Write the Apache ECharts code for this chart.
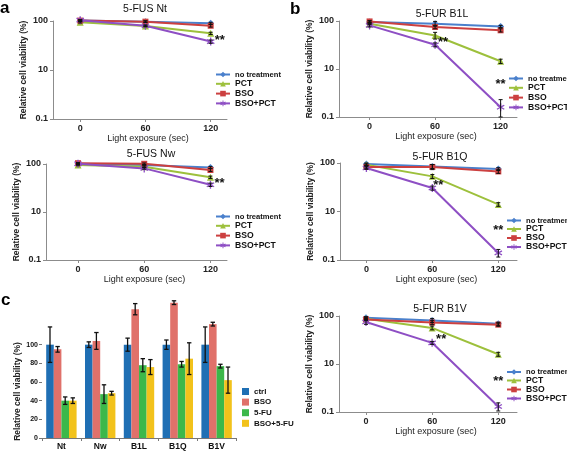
<!DOCTYPE html>
<html><head><meta charset="utf-8">
<script src="https://cdn.jsdelivr.net/npm/echarts@6/dist/echarts.min.js"></script>
<style>html,body{margin:0;padding:0;background:#fff}#c{width:567px;height:451px}</style>
</head><body><div id="c"></div>
<script>
// ---------- DATA ----------
const exposure = [0, 60, 120];
const lineNames = ['no treatment', 'PCT', 'BSO', 'BSO+PCT'];
// values as placed on the printed log axis (bottom gridline is labelled "0.1")
const ntNoTreat = [102, 97, 90];
const ntPct = [94, 79, 56];
const ntBso = [102, 97, 80];
const ntBsoPct = [104, 80, 38];
const ntErr = [[3, 3, 4], [3, 3, 3], [3, 4, 5], [3, 3, 3]];

const nwNoTreat = [101, 95, 85];
const nwPct = [95, 88, 53];
const nwBso = [104, 101, 75];
const nwBsoPct = [101, 81, 37];
const nwErr = [[3, 3, 4], [3, 3, 3], [3, 4, 5], [3, 3, 3]];

const b1lNoTreat = [95, 88, 77];
const b1lPct = [88, 50, 14.5];
const b1lBso = [98, 75, 64];
const b1lBsoPct = [81, 32, 1.6];
const b1lErr = [[5, 10, 4], [4, 8, 1.5], [4, 6, 5], [6, 3, 0.7]];

const b1qNoTreat = [95, 85, 75];
const b1qPct = [92, 53, 14];
const b1qBso = [83, 83, 67];
const b1qBsoPct = [79, 30.5, 1.4];
const b1qErr = [[5, 8, 5], [4, 5, 1.2], [5, 10, 6], [5, 3, 0.25]];

const b1vNoTreat = [92, 81, 69];
const b1vPct = [88, 56.5, 16];
const b1vBso = [85, 73, 66];
const b1vBsoPct = [75, 27.6, 1.3];
const b1vErr = [[5, 8, 5], [4, 5, 1.5], [5, 7, 5], [8, 2, 0.25]];

const barCats = ['Nt', 'Nw', 'B1L', 'B1Q', 'B1V'];
const barNames = ['ctrl', 'BSO', '5-FU', 'BSO+5-FU'];
const ctrlVals = [100, 100, 100, 100, 100];
const ctrlErr = [19, 3, 7, 5, 19];
const bsoVals = [95, 104, 138, 145, 122];
const bsoErr = [3, 9, 6, 2, 2];
const fuVals = [40, 47, 78, 79, 77];
const fuErr = [4, 10, 7, 3, 2];
const bsoFuVals = [40, 48, 76, 85, 62];
const bsoFuErr = [3, 2, 8, 17, 14];
const barTicks = [0, 20, 40, 60, 80, 100];

// ---------- STYLE / LAYOUT ----------
const FONT = '"Liberation Sans", Arial, Helvetica, sans-serif';
const lineColors = ['#4a80cc', '#9dc03c', '#cc4040', '#8e4fc4'];
const barColors = ['#1f6fb4', '#e0716a', '#3cb84a', '#f2c21b'];
const asterisk = 'path://M4.2,0 L5.8,0 L5.8,3.6 L9,1.8 L9.8,3.2 L6.6,5 L9.8,6.8 L9,8.2 L5.8,6.4 L5.8,10 L4.2,10 L4.2,6.4 L1,8.2 L0.2,6.8 L3.4,5 L0.2,3.2 L1,1.8 L4.2,3.6 Z';
const symbols = ['diamond', 'triangle', 'rect', asterisk];
const symSizes = [7, 7, 6, 8];
const AX = '#8c8c8c';

const panels = [
  {title: '5-FUS Nt', tx: 145, ty: 4, grid: {left: 53, top: 21, width: 174, height: 98}, xMin: -25, xMax: 135,
   vals: [ntNoTreat, ntPct, ntBso, ntBsoPct], err: ntErr, lg: [215, 70.5, 0.8],
   stars: [[120, 2, [9, -1]]]},
  {title: '5-FUS Nw', tx: 151, ty: 149, grid: {left: 46, top: 164, width: 181, height: 96}, xMin: -29, xMax: 135,
   vals: [nwNoTreat, nwPct, nwBso, nwBsoPct], err: nwErr, lg: [215, 212.5, 0.8],
   stars: [[120, 2, [9, -1]]]},
  {title: '5-FUR B1L', tx: 442, ty: 9, grid: {left: 339, top: 21, width: 178, height: 96}, xMin: -28, xMax: 135,
   vals: [b1lNoTreat, b1lPct, b1lBso, b1lBsoPct], err: b1lErr, lg: [508, 74.5, 0.8],
   stars: [[60, 1, [8, -2]], [120, 2, [0, -23]]]},
  {title: '5-FUR B1Q', tx: 440, ty: 151.5, grid: {left: 340, top: 163, width: 177, height: 97}, xMin: -24, xMax: 137,
   vals: [b1qNoTreat, b1qPct, b1qBso, b1qBsoPct], err: b1qErr, lg: [506, 216.5, 0],
   stars: [[60, 1, [6, -3]], [120, 2, [0, -22]]]},
  {title: '5-FUR B1V', tx: 440, ty: 304, grid: {left: 339, top: 316, width: 178, height: 96}, xMin: -24.5, xMax: 137,
   vals: [b1vNoTreat, b1vPct, b1vBso, b1vBsoPct], err: b1vErr, lg: [506, 368, 0],
   stars: [[60, 1, [9, -3]], [120, 2, [0, -25]]]}
];

function errLine(params, api) {
  const x = api.value(0), v = api.value(1), e = api.value(2);
  const t = api.coord([x, v + e]);
  const b = api.coord([x, Math.max(v - e, 1)]);
  const w = 2, st = {stroke: '#111', lineWidth: 1};
  return {type: 'group', children: [
    {type: 'line', shape: {x1: t[0], y1: t[1], x2: b[0], y2: b[1]}, style: st},
    {type: 'line', shape: {x1: t[0] - w, y1: t[1], x2: t[0] + w, y2: t[1]}, style: st},
    {type: 'line', shape: {x1: b[0] - w, y1: b[1], x2: b[0] + w, y2: b[1]}, style: st}
  ]};
}

const BARW = 7.6;
function errBar(params, api) {
  const c = api.value(0), s = api.value(1), v = api.value(2), e = api.value(3);
  const off = (s - 1.5) * BARW;
  const t = api.coord([c, v + e]);
  const b = api.coord([c, v - e]);
  const x = t[0] + off, w = 2.2, st = {stroke: '#111', lineWidth: 1.3};
  return {type: 'group', children: [
    {type: 'line', shape: {x1: x, y1: t[1], x2: x, y2: b[1]}, style: st},
    {type: 'line', shape: {x1: x - w, y1: t[1], x2: x + w, y2: t[1]}, style: st},
    {type: 'line', shape: {x1: x - w, y1: b[1], x2: x + w, y2: b[1]}, style: st}
  ]};
}

const grids = [], xAxes = [], yAxes = [], series = [], titles = [], legends = [];
panels.forEach((p, i) => {
  grids.push(Object.assign({}, p.grid));
  titles.push({text: p.title, left: p.tx, top: p.ty, textAlign: 'center', padding: 0,
    textStyle: {fontFamily: FONT, fontSize: 10.5, fontWeight: 'normal', color: '#111'}});
  xAxes.push({type: 'value', gridIndex: i, min: p.xMin, max: p.xMax,
    axisLine: {show: true, onZero: false, lineStyle: {color: AX, width: 1}},
    axisTick: {show: true, customValues: exposure, length: 3, lineStyle: {color: AX}},
    axisLabel: {customValues: exposure, fontFamily: FONT, fontSize: 9, fontWeight: 'bold', color: '#222', margin: 5},
    splitLine: {show: false},
    name: 'Light exposure (sec)', nameLocation: 'middle', nameGap: 13,
    nameTextStyle: {fontFamily: FONT, fontSize: 9, color: '#222', padding: [0, 0, 0, 16]}});
  yAxes.push({type: 'log', gridIndex: i, min: 1, max: 100, logBase: 10,
    axisLine: {show: true, onZero: false, lineStyle: {color: AX, width: 1}},
    axisTick: {show: true, length: 3, lineStyle: {color: AX}},
    axisLabel: {fontFamily: FONT, fontSize: 9, fontWeight: 'bold', color: '#222', margin: 5,
      formatter: v => (v <= 1.0001 ? '0.1' : String(Math.round(v)))},
    splitLine: {show: false}, minorTick: {show: false},
    name: 'Relative cell viability (%)', nameLocation: 'middle', nameGap: 25,
    nameTextStyle: {fontFamily: FONT, fontSize: 8.5, fontWeight: 'bold', color: '#222'}});
  p.vals.forEach((vals, j) => {
    const s = {type: 'line', name: lineNames[j], xAxisIndex: i, yAxisIndex: i,
      data: exposure.map((x, k) => [x, vals[k]]),
      symbol: symbols[j], symbolSize: symSizes[j], clip: false,
      color: lineColors[j], lineStyle: {width: 2, color: lineColors[j]},
      itemStyle: {color: lineColors[j]}, z: 2 + j};
    if (j === 3) {
      s.markPoint = {symbol: 'circle', symbolSize: 1, itemStyle: {color: 'rgba(0,0,0,0)'},
        data: p.stars.map(st => ({coord: [st[0], vals[st[1]]],
          label: {show: true, formatter: '**', offset: st[2], fontFamily: FONT, fontSize: 13, fontWeight: 'bold', color: '#111'}}))};
    }
    series.push(s);
    series.push({type: 'custom', xAxisIndex: i, yAxisIndex: i, renderItem: errLine, silent: true, z: 10,
      encode: {x: 0, y: 1}, clip: false,
      data: exposure.map((x, k) => [x, vals[k], p.err[j][k]])});
  });
  legends.push({orient: 'vertical', left: p.lg[0], top: p.lg[1], padding: 0, itemWidth: 14, itemHeight: 7,
    itemGap: p.lg[2], itemTextGap: 2, selectedMode: false,
    data: lineNames.map(n => (n === 'no treatment' ? {name: n, textStyle: {fontSize: 7.6}} : n)),
    textStyle: {fontFamily: FONT, fontSize: 8.6, fontWeight: 'bold', color: '#111', lineHeight: 7.5}});
});

// panel c (bar chart)
const ci = panels.length;
grids.push({left: 42, top: 298, width: 194, height: 141});
xAxes.push({type: 'category', gridIndex: ci, data: barCats,
  axisLine: {show: true, lineStyle: {color: '#777', width: 1}},
  axisTick: {show: true, alignWithLabel: false, length: 3, lineStyle: {color: '#777'}},
  axisLabel: {fontFamily: FONT, fontSize: 8.5, fontWeight: 'bold', color: '#111', margin: 4}});
yAxes.push({type: 'value', gridIndex: ci, min: 0, max: 150,
  axisLine: {show: false},
  axisTick: {show: true, customValues: barTicks, length: 3, lineStyle: {color: '#777'}},
  axisLabel: {customValues: barTicks, fontFamily: FONT, fontSize: 7, fontWeight: 'bold', color: '#111', margin: 4},
  splitLine: {show: false},
  name: 'Relative cell viability (%)', nameLocation: 'middle', nameGap: 19,
  nameTextStyle: {fontFamily: FONT, fontSize: 8.5, fontWeight: 'bold', color: '#222', padding: [0, 47, 0, 0]}});
const barVals = [ctrlVals, bsoVals, fuVals, bsoFuVals];
const barErrs = [ctrlErr, bsoErr, fuErr, bsoFuErr];
const errData = [];
barVals.forEach((vals, s) => {
  series.push({type: 'bar', name: barNames[s], xAxisIndex: ci, yAxisIndex: ci, data: vals,
    barWidth: BARW, barGap: '0%', itemStyle: {color: barColors[s]}, z: 2});
  vals.forEach((v, c) => errData.push([c, s, v, barErrs[s][c]]));
});
series.push({type: 'custom', xAxisIndex: ci, yAxisIndex: ci, renderItem: errBar, silent: true, z: 10,
  encode: {x: 0, y: 2}, data: errData});
legends.push({orient: 'vertical', left: 242, top: 387.5, padding: 0, itemWidth: 7, itemHeight: 7, itemGap: 2.6,
  itemTextGap: 2, selectedMode: false,
  data: barNames.map((n, s) => ({name: n, icon: 'rect', itemStyle: {color: barColors[s]}})),
  textStyle: {fontFamily: FONT, fontSize: 8, fontWeight: 'bold', color: '#111', lineHeight: 7}});

const chart = echarts.init(document.getElementById('c'), null, {renderer: 'canvas'});
chart.setOption({
  animation: false,
  backgroundColor: '#fff',
  title: titles,
  legend: legends,
  grid: grids,
  xAxis: xAxes,
  yAxis: yAxes,
  series: series,
  graphic: [
    {type: 'text', left: 0, top: 0, style: {text: 'a', font: 'bold 17px ' + FONT, fill: '#000'}},
    {type: 'text', left: 290, top: 1, style: {text: 'b', font: 'bold 17px ' + FONT, fill: '#000'}},
    {type: 'text', left: 1, top: 292, style: {text: 'c', font: 'bold 17px ' + FONT, fill: '#000'}}
  ]
});
</script></body></html>
